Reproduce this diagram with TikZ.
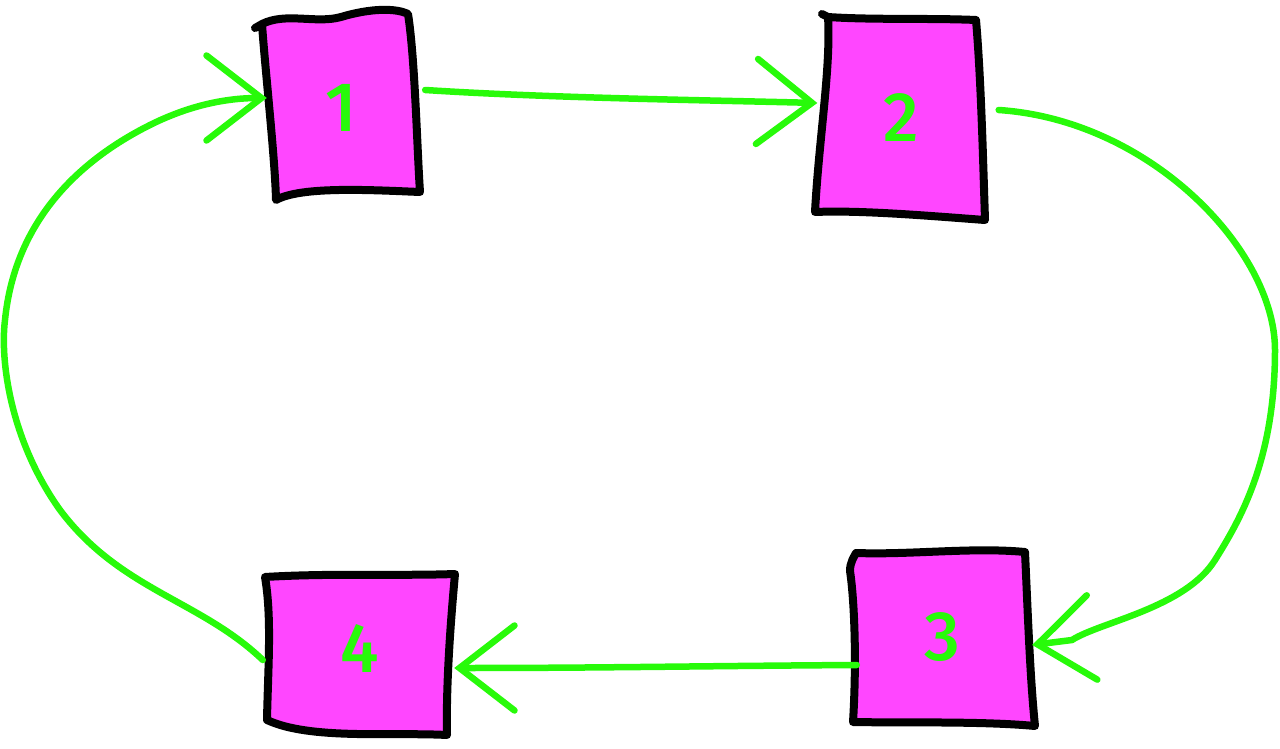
\documentclass[tikz,border=0pt]{standalone}
\usepackage{fontspec}
\setmainfont{Fira Sans Medium}
\usetikzlibrary{arrows.meta,calc,backgrounds}
\definecolor{boxfill}{RGB}{255,70,255}
\definecolor{lgreen}{RGB}{40,250,10}
\tikzset{
  box/.style={rectangle, inner sep=0pt, text=lgreen, font=\fontsize{70}{70}\selectfont},
  outline/.style={draw=black, fill=boxfill, line width=8pt, line cap=round, line join=round},
  link/.style={draw=lgreen, line width=6.5pt, line cap=round, line join=round,
    -{Straight Barb[length=55pt,width=85pt,line cap=round]}}
}
\begin{document}
\begin{tikzpicture}[x=1pt,y=-1pt]
\useasboundingbox (0,0) rectangle (1280,749);
\node[box, minimum width=158pt, minimum height=178pt] (n1) at (341,108) {1};
\node[box, minimum width=167pt, minimum height=200pt] (n2) at (901,118) {2};
\node[box, minimum width=180pt, minimum height=172pt] (n3) at (942,637) {3};
\node[box, minimum width=188pt, minimum height=150pt] (n4) at (360,648) {4};
\begin{scope}[on background layer]
% box 1
\draw[outline] ($(n1)+(-86,-80)$) -- ($(n1)+(-79,-84)$)
  .. controls ($(n1)+(-55,-96)$) and ($(n1)+(-25,-84)$) .. ($(n1)+(0,-91)$)
  .. controls ($(n1)+(30,-100)$) and ($(n1)+(55,-100)$) .. ($(n1)+(67,-94)$)
  .. controls ($(n1)+(74,-50)$) and ($(n1)+(76,40)$) .. ($(n1)+(79,84)$)
  .. controls ($(n1)+(30,82)$) and ($(n1)+(-40,78)$) .. ($(n1)+(-65,92)$)
  .. controls ($(n1)+(-66,50)$) and ($(n1)+(-76,-40)$) .. ($(n1)+(-79,-84)$) -- cycle;
% box 2
\draw[outline] ($(n2)+(-79,-104)$) -- ($(n2)+(-73,-101)$)
  .. controls ($(n2)+(-30,-98)$) and ($(n2)+(30,-100)$) .. ($(n2)+(75,-98)$)
  .. controls ($(n2)+(80,-40)$) and ($(n2)+(82,40)$) .. ($(n2)+(84,102)$)
  .. controls ($(n2)+(30,98)$) and ($(n2)+(-40,92)$) .. ($(n2)+(-86,94)$)
  .. controls ($(n2)+(-82,20)$) and ($(n2)+(-70,-50)$) .. ($(n2)+(-73,-101)$) -- cycle;
% box 3
\draw[outline] ($(n3)+(-86,-84)$)
  .. controls ($(n3)+(-30,-82)$) and ($(n3)+(30,-90)$) .. ($(n3)+(83,-85)$)
  .. controls ($(n3)+(86,-20)$) and ($(n3)+(88,40)$) .. ($(n3)+(93,89)$)
  .. controls ($(n3)+(40,84)$) and ($(n3)+(-40,86)$) .. ($(n3)+(-89,85)$)
  .. controls ($(n3)+(-85,20)$) and ($(n3)+(-88,-40)$) .. ($(n3)+(-92,-66)$)
  .. controls ($(n3)+(-92,-75)$) and ($(n3)+(-88,-80)$) .. ($(n3)+(-86,-84)$) -- cycle;
% box 4
\draw[outline] ($(n4)+(-95,-71)$)
  .. controls ($(n4)+(-30,-75)$) and ($(n4)+(40,-72)$) .. ($(n4)+(95,-74)$)
  .. controls ($(n4)+(90,-20)$) and ($(n4)+(86,40)$) .. ($(n4)+(87,87)$)
  .. controls ($(n4)+(30,84)$) and ($(n4)+(-50,92)$) .. ($(n4)+(-93,72)$)
  .. controls ($(n4)+(-92,20)$) and ($(n4)+(-88,-30)$) .. ($(n4)+(-95,-71)$) -- cycle;
\end{scope}
% 1 -> 2
\draw[link] ([shift={(5pt,18pt)}]n1.east) .. controls (550,98) and (700,100) .. ([yshift=15pt]n2.west);
% 2 -> 3
\draw[link] ([shift={(14pt,8pt)}]n2.east) .. controls (1150,120) and (1275,250) .. (1275,350)
  .. controls (1275,460) and (1240,520) .. (1215,560)
  .. controls (1185,608) and (1100,622) .. (1072,640)
  -- ([yshift=-8pt]n3.east);
% 3 -> 4
\draw[link] ([shift={(5pt,-28pt)}]n3.west) .. controls (700,666) and (600,668) .. ([yshift=-20pt]n4.east);
% 4 -> 1
\draw[link] ([shift={(-3pt,-12pt)}]n4.west) .. controls (200,600) and (120,590) .. (60,510)
  .. controls (10,440) and (0,360) .. (5,320)
  .. controls (15,220) and (80,160) .. (150,125)
  .. controls (200,100) and (240,98) .. ([shift={(5pt,10pt)}]n1.west);
\end{tikzpicture}
\end{document}
